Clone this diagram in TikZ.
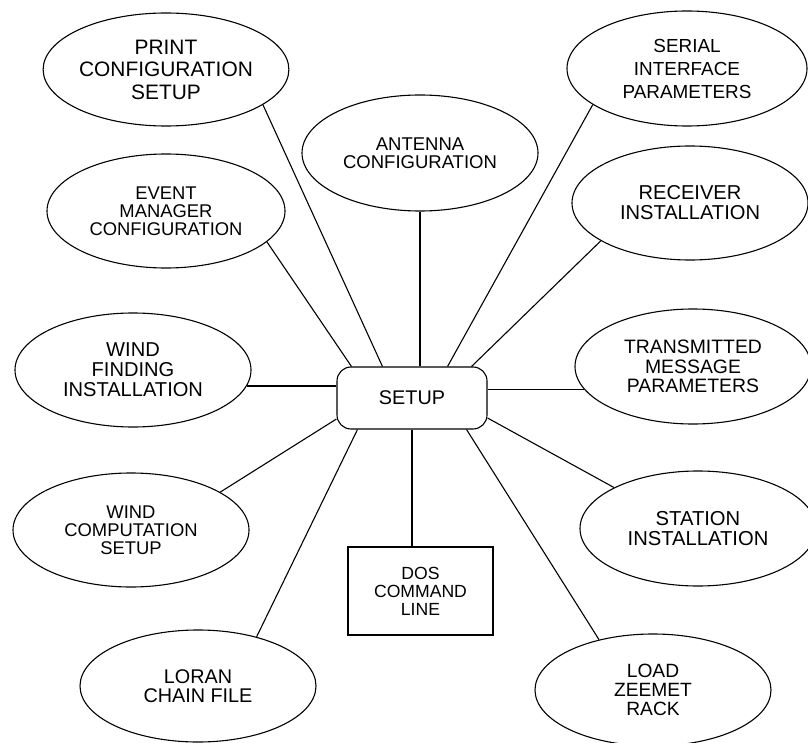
\documentclass[tikz,border=0pt]{standalone}
\usepackage{fontspec}
\setmainfont{Liberation Sans}
\usetikzlibrary{shapes.geometric}
\newcommand\fsz[2]{\fontsize{#1}{#2}\selectfont}
\tikzset{
  bub/.style={draw, ellipse, line width=1.1pt, inner sep=0pt, align=center},
  conn/.style={line width=1.1pt},
  boxnode/.style={draw, line width=1.1pt, inner sep=0pt, align=center}
}
\begin{document}
\begin{tikzpicture}[x=1pt,y=-1pt]
\useasboundingbox (0,0) rectangle (808,743);
% central box
\node[boxnode, rounded corners=14pt, minimum width=150pt, minimum height=62pt, font=\fsz{19.8}{20}] (setup) at (412,398) {SETUP};
\node[boxnode, minimum width=145pt, minimum height=88pt, font=\fsz{17.6}{18}] (dos) at (420.5,591) {DOS\\COMMAND\\LINE};
% ellipses
\node[bub, minimum width=224pt, minimum height=113pt, font=\fsz{20.9}{22.5}] (print) at (166,69.5) {PRINT\\CONFIGURATION\\SETUP};
\node[bub, minimum width=238pt, minimum height=114pt, font=\fsz{18.4}{18}] (event) at (166,211) {EVENT\\MANAGER\\CONFIGURATION};
\node[bub, minimum width=236pt, minimum height=114pt, font=\fsz{20.1}{20}] (wf) at (133,370) {WIND\\FINDING\\INSTALLATION};
\node[bub, minimum width=236pt, minimum height=114pt, font=\fsz{18.4}{18}] (wc) at (131,530) {WIND\\COMPUTATION\\SETUP};
\node[bub, minimum width=236pt, minimum height=112pt, font=\fsz{19.8}{19.5}] (loran) at (198,686) {LORAN\\CHAIN FILE};
\node[bub, minimum width=236pt, minimum height=116pt, font=\fsz{18.5}{18.5}] (ant) at (420,153) {ANTENNA\\CONFIGURATION};
\node[bub, minimum width=240pt, minimum height=115pt, font=\fsz{18.9}{23}] (serial) at (687,68.5) {SERIAL\\INTERFACE\\PARAMETERS};
\node[bub, minimum width=236pt, minimum height=114pt, font=\fsz{20.1}{20}] (recv) at (690,203) {RECEIVER\\INSTALLATION};
\node[bub, minimum width=236pt, minimum height=115pt, font=\fsz{19.4}{19.5}] (tm) at (693,366.5) {TRANSMITTED\\MESSAGE\\PARAMETERS};
\node[bub, minimum width=236pt, minimum height=115pt, font=\fsz{20.2}{20}] (station) at (698,528.5) {STATION\\INSTALLATION};
\node[bub, minimum width=236pt, minimum height=112pt, font=\fsz{19.2}{19}] (load) at (653,690) {LOAD\\ZEEMET\\RACK};
% connectors
\draw[conn] (print.-20) -- ([xshift=46pt]setup.north west);
\draw[conn] (event.-17.9) -- ([xshift=15pt]setup.north west);
\draw[conn] (wf.-8) -- (wf.-8 -| setup.west);
\draw[conn] (wc.23.2) -- ([yshift=-21pt]setup.west);
\draw[conn] (loran.40.7) -- ([xshift=21pt]setup.south west);
\draw[conn] (setup.south) -- (setup.south |- dos.north);
\draw[conn] (ant.south) -- (ant.south |- setup.north);
\draw[conn] (serial.201.5) -- ([xshift=-40pt]setup.north east);
\draw[conn] (recv.203.7) -- ([xshift=-16pt]setup.north east);
\draw[conn] (tm.192.3 -| setup.east) -- (tm.192.3);
\draw[conn] ([yshift=-20pt]setup.east) -- (station.154.8);
\draw[conn] ([xshift=-21pt]setup.south east) -- (load.137.1);
\end{tikzpicture}
\end{document}
